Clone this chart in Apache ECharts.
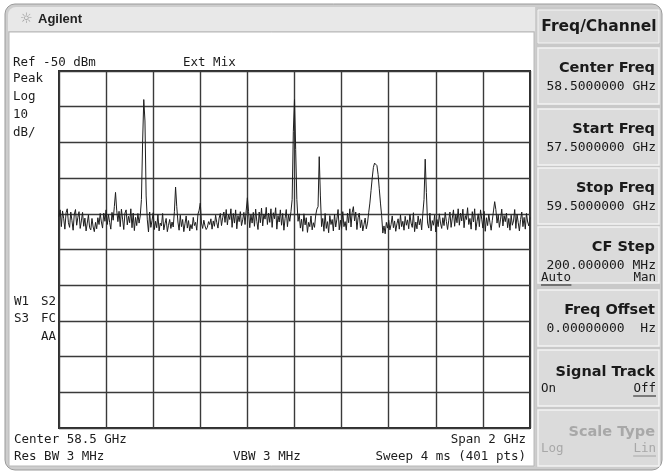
<!DOCTYPE html>
<html>
<head>
<meta charset="utf-8">
<script src="https://cdn.jsdelivr.net/npm/echarts@6/dist/echarts.min.js"></script>
<style>
html,body{margin:0;padding:0;background:#fff;}
#chart{width:664px;height:472px;}
</style>
</head>
<body>
<div id="chart"></div>
<script>
const centerMHz = 58500;
const spanMHz = 2000;
const sweepPoints = 401;
const refLevel = -50;      // dBm, top of screen
const dbPerDiv = 10;
const divisions = 10;
const xTickMHz = [-1000, -800, -600, -400, -200, 0, 200, 400, 600, 800, 1000];
// trace amplitude, dBm, one value per sweep point (57.5 GHz .. 59.5 GHz)
const traceDbm = [
-90.8,-88.9,-93.6,-89.2,-91.4,-94.3,-89.7,-88.6,-92.5,-93.8,-89.5,-91.9,-94.6,-90.1,-88.8,-93.2,-91.0,-89.4,-94.1,-92.0,
-89.6,-93.5,-91.2,-94.8,-92.6,-90.3,-93.9,-94.5,-91.3,-93.7,-95.0,-92.4,-94.2,-91.1,-93.0,-89.9,-92.3,-94.0,-89.8,-92.1,
-88.9,-93.0,-90.2,-92.4,-94.3,-89.6,-91.8,-88.0,-84.0,-89.0,-92.2,-89.3,-93.6,-88.7,-91.5,-94.4,-89.8,-88.9,-93.1,-90.7,
-92.5,-88.6,-93.9,-89.8,-94.7,-91.0,-93.3,-89.9,-92.6,-90.6,-86.0,-70.0,-58.0,-64.0,-85.0,-91.7,-95.1,-89.5,-93.8,-91.9,
-89.7,-94.4,-92.1,-93.9,-90.2,-94.8,-92.6,-93.4,-89.9,-94.5,-92.8,-91.3,-95.0,-93.2,-91.6,-94.1,-92.3,-93.7,-89.4,-82.5,
-88.0,-92.3,-94.6,-90.4,-93.6,-91.6,-95.0,-92.8,-90.6,-94.0,-91.9,-94.8,-93.0,-94.2,-91.0,-93.3,-92.4,-94.6,-90.1,-89.0,
-87.0,-92.6,-94.1,-91.8,-93.4,-94.4,-93.8,-92.2,-93.0,-91.4,-94.3,-92.0,-93.5,-90.4,-92.5,-94.0,-91.2,-89.9,-93.3,-91.1,
-89.5,-92.4,-88.8,-93.1,-90.3,-91.6,-88.6,-93.8,-89.9,-92.6,-88.9,-94.2,-90.5,-92.2,-89.4,-93.3,-91.7,-89.6,-93.0,-89.0,
-85.5,-89.4,-93.9,-90.2,-92.6,-89.6,-93.5,-88.7,-92.1,-94.4,-89.5,-92.5,-88.4,-93.4,-90.1,-91.5,-88.2,-93.0,-89.8,-92.4,
-88.6,-93.8,-89.7,-91.4,-88.3,-94.3,-90.5,-92.3,-88.9,-93.2,-89.9,-94.6,-91.3,-88.8,-93.6,-90.3,-92.1,-89.4,-86.0,-67.0,
-58.0,-72.0,-86.0,-92.1,-90.0,-94.0,-91.5,-94.9,-90.0,-93.1,-91.1,-95.2,-92.4,-93.6,-90.6,-94.5,-92.5,-93.8,-90.4,-88.7,
-88.0,-74.0,-85.0,-93.6,-91.3,-94.9,-89.9,-94.1,-92.2,-95.3,-90.5,-93.0,-91.6,-94.8,-90.1,-93.7,-91.5,-88.8,-94.5,-91.8,
-94.1,-89.4,-93.6,-92.2,-94.6,-89.8,-92.5,-88.6,-93.7,-89.6,-88.0,-92.0,-89.5,-94.4,-91.1,-89.8,-93.9,-91.7,-94.8,-93.0,
-91.2,-94.2,-92.6,-89.7,-87.0,-83.5,-80.0,-77.0,-75.8,-75.4,-76.5,-79.0,-83.0,-87.0,-90.5,-95.4,-93.4,-95.6,-92.4,-94.0,
-91.8,-94.5,-93.0,-90.6,-93.9,-92.0,-94.9,-92.8,-91.4,-94.3,-90.3,-93.6,-92.1,-94.6,-90.7,-93.2,-91.7,-94.2,-90.1,-92.6,
-93.8,-89.7,-95.0,-92.3,-94.2,-90.6,-93.1,-91.4,-94.5,-89.9,-86.0,-74.7,-84.0,-92.6,-94.0,-89.8,-94.8,-91.9,-93.2,-90.4,
-95.1,-91.6,-93.6,-90.0,-92.6,-94.1,-91.1,-93.3,-89.6,-92.2,-94.4,-91.8,-89.5,-93.8,-91.2,-88.9,-93.5,-90.2,-92.5,-88.6,
-93.2,-89.8,-92.0,-88.7,-93.9,-90.5,-91.6,-88.3,-93.0,-91.3,-94.3,-89.4,-92.3,-88.6,-94.6,-92.2,-90.0,-93.6,-88.9,-91.5,
-94.0,-89.3,-94.9,-91.1,-93.3,-90.1,-92.5,-94.6,-91.8,-89.2,-86.6,-88.8,-92.6,-90.3,-93.8,-91.5,-88.7,-93.4,-90.5,-92.2,
-89.8,-93.9,-91.3,-94.6,-90.4,-93.2,-92.0,-88.8,-94.1,-90.1,-92.5,-94.8,-91.6,-89.5,-93.6,-91.0,-94.3,-89.9,-92.3,-93.4,
-91.0
];
// annotation texts
const leftTopTexts = ['Peak', 'Log', '10', 'dB/'];
const softkeys = [
  {title: 'Center Freq', value: '58.5000000 GHz'},
  {title: 'Start Freq', value: '57.5000000 GHz'},
  {title: 'Stop Freq', value: '59.5000000 GHz'},
  {title: 'CF Step', value: '200.000000 MHz', left: 'Auto', right: 'Man', under: 'left'},
  {title: 'Freq Offset', value: '0.00000000  Hz'},
  {title: 'Signal Track', left: 'On', right: 'Off', under: 'right'},
  {title: 'Scale Type', left: 'Log', right: 'Lin', under: 'right', grey: true}
];

// ---- Build ----
const stepMHz = spanMHz / (sweepPoints - 1);
const seriesData = traceDbm.map((v, i) => [-spanMHz / 2 + i * stepMHz, v]);

const MONO = '"DejaVu Sans Mono", "Liberation Mono", monospace';
const SANS = '"DejaVu Sans", "Liberation Sans", sans-serif';
const g = [];
function txt(x, y, text, opt) {
  opt = opt || {};
  g.push({type: 'text', z: 10, style: {x, y, text, fill: opt.fill || '#1c1c1c',
    font: opt.font || ('12.5px ' + MONO), textAlign: opt.align || 'left', textVerticalAlign: 'middle'}});
}
function rect(x, y, w, h, fill, stroke, lw, r, z) {
  g.push({type: 'rect', z: z || 0, shape: {x, y, width: w, height: h, r: r || 0},
    style: {fill, stroke: stroke || null, lineWidth: lw || 0}});
}
function line(x1, y1, x2, y2, color, w) {
  g.push({type: 'line', z: 10, shape: {x1, y1, x2, y2}, style: {stroke: color, lineWidth: w || 1}});
}

// outer frame
rect(5, 4, 657, 466, '#cdcdcd', '#9a9a9a', 1, [10, 10, 10, 10], 0);
rect(8, 7, 527, 24, '#e8e8e8', null, 0, [8, 0, 0, 0], 1);
rect(9, 32, 525, 434, '#ffffff', '#b8b8b8', 1, 0, 1);
txt(20, 19, '\u263C', {fill: '#9a9a9a', font: '14px ' + SANS});
txt(38, 19, 'Agilent', {fill: '#222', font: 'bold 13px "Liberation Sans", Arial, sans-serif'});

// softkey panel
rect(536, 7, 124, 460, '#c9c9c9', null, 0, [0, 8, 8, 0], 1);
rect(538, 10, 121, 33, '#dadada', '#f4f4f4', 1, 0, 2);
txt(599, 27, 'Freq/Channel', {font: 'bold 15.5px ' + SANS, align: 'center', fill: '#1a1a1a'});
const keyTop = [48, 109, 168, 227, 290, 350, 410];
const keyH = 56;
softkeys.forEach((k, i) => {
  const y0 = keyTop[i];
  rect(538, y0, 121, keyH, '#dbdbdb', '#f4f4f4', 1.5, 0, 2);
  const col = k.grey ? '#a8a8a8' : '#1a1a1a';
  const hasVal = !!k.value;
  const titleY = hasVal ? y0 + 20 : y0 + 22;
  txt(655, titleY, k.title, {font: 'bold 14.5px ' + SANS, align: 'right', fill: col});
  if (hasVal) txt(656, y0 + 39, k.value, {font: '13px ' + MONO, align: 'right', fill: col});
  if (k.left) {
    const ly = hasVal ? y0 + 51 : y0 + 39;
    txt(541, ly, k.left, {font: '12.5px ' + MONO, fill: col});
    txt(656, ly, k.right, {font: '12.5px ' + MONO, align: 'right', fill: col});
    if (k.under === 'left') line(541, ly + 7, 541 + k.left.length * 7.6, ly + 7, col, 1);
    else line(656 - k.right.length * 7.6, ly + 7, 656, ly + 7, col, 1);
  }
});

// screen annotations
txt(13, 63, 'Ref -50 dBm');
txt(183, 63, 'Ext Mix');
leftTopTexts.forEach((t, i) => txt(13, 79 + i * 18, t));
txt(14, 302, 'W1');
txt(56, 302, 'S2', {align: 'right'});
txt(14, 319, 'S3');
txt(56, 319, 'FC', {align: 'right'});
txt(56, 337, 'AA', {align: 'right'});
txt(14, 440, 'Center 58.5 GHz');
txt(14, 457, 'Res BW 3 MHz');
txt(233, 457, 'VBW 3 MHz');
txt(526, 440, 'Span 2 GHz', {align: 'right'});
txt(526, 457, 'Sweep 4 ms (401 pts)', {align: 'right'});

const chart = echarts.init(document.getElementById('chart'), null, {renderer: 'canvas'});
chart.setOption({
  animation: false,
  backgroundColor: '#ffffff',
  graphic: {elements: g},
  grid: {left: 59, top: 71, width: 471, height: 357, show: true, borderColor: '#2e2e2e', borderWidth: 2, z: 5},
  xAxis: {
    type: 'value', min: xTickMHz[0], max: xTickMHz[xTickMHz.length - 1], interval: spanMHz / divisions,
    axisLabel: {show: false}, axisTick: {show: false}, axisLine: {show: false},
    splitLine: {show: true, lineStyle: {color: '#3a3a3a', width: 1.4}}, z: 5
  },
  yAxis: {
    type: 'value', min: refLevel - dbPerDiv * divisions, max: refLevel, interval: dbPerDiv,
    axisLabel: {show: false}, axisTick: {show: false}, axisLine: {show: false},
    splitLine: {show: true, lineStyle: {color: '#3a3a3a', width: 1.4}}, z: 5
  },
  series: [{
    type: 'line', data: seriesData, showSymbol: false, symbol: 'none', z: 6,
    lineStyle: {color: '#1e1e1e', width: 1}
  }]
});
</script>
</body>
</html>
